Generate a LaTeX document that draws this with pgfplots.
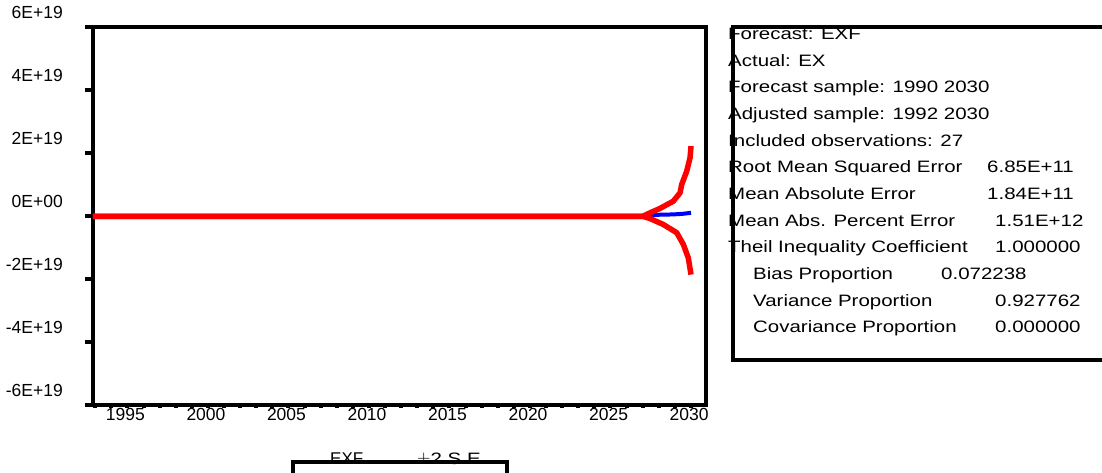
\documentclass[border=0pt]{standalone}
\usepackage{pgfplots}
\pgfplotsset{compat=1.18}
\usepackage{fontspec}
\setmainfont{Liberation Sans}
\newfontfamily\lib{Liberation Sans}
\newfontfamily\libw{Liberation Sans}[FakeStretch=1.24]
\newcommand{\tickfont}{\lib\fontsize{17.5}{20}\selectfont}
\newcommand{\panelfont}{\libw\fontsize{16.5}{20}\selectfont}
\begin{document}
\begin{tikzpicture}[x=1pt,y=1pt]
\useasboundingbox (0,0) rectangle (1102,473);
\begin{axis}[
  at={(93pt,68pt)}, anchor=south west,
  width=613pt, height=378pt, scale only axis,
  xmin=1992.86, xmax=2030.93,
  ymin=-6e19, ymax=6e19,
  axis line style={line width=4pt, line cap=rect},
  tick align=outside,
  xtick pos=bottom, ytick pos=left,
  ytick={-6e19,-4e19,-2e19,0,2e19,4e19,6e19},
  yticklabels={-6E+19,-4E+19,-2E+19,0E+00,2E+19,4E+19,6E+19},
  xtick={1995,2000,2005,2010,2015,2020,2025,2030},
  xticklabels={1995,2000,2005,2010,2015,2020,2025,2030},
  minor xtick={1993,1994,...,2030},
  major tick length=8pt, minor tick length=3pt,
  every major tick/.style={line width=4pt, black},
  every minor tick/.style={line width=4pt, black},
  every major x tick/.style={draw=none},
  yticklabel style={font=\tickfont, anchor=east, xshift=-22pt, yshift=15pt, inner sep=0pt},
  xticklabel style={font=\tickfont, anchor=north, xshift=-2pt, yshift=5pt, inner sep=0pt},
  scaled y ticks=false,
  clip=true,
]
\addplot[blue, line width=4pt, line join=round] coordinates {
(1992,-1e17)(1995,-1e17)(2000,-1e17)(2005,-1e17)(2010,-1e17)(2015,-1e17)(2020,-1e17)(2025,-1e17)(2027,-1e17)
(2027.45,3e17)(2028.07,4e17)(2028.9,5e17)(2029.5,7e17)(2030,1.0e18)};
\addplot[red, line width=5.5pt, line join=round] coordinates {
(1992,-1e17)(1995,-1e17)(2000,-1e17)(2005,-1e17)(2010,-1e17)(2015,-1e17)(2020,-1e17)(2025,-1e17)(2027,-1e17)
(2027.45,1.0e18)(2028.07,2.4e18)(2028.9,4.7e18)(2029.32,7.4e18)(2029.42,1.0e19)(2029.73,1.42e19)(2029.94,1.85e19)(2030,2.22e19)};
\addplot[red, line width=5.5pt, line join=round] coordinates {
(1992,-1e17)(1995,-1e17)(2000,-1e17)(2005,-1e17)(2010,-1e17)(2015,-1e17)(2020,-1e17)(2025,-1e17)(2027,-1e17)
(2027.45,-8e17)(2028.28,-2.7e18)(2029.11,-5.3e18)(2029.52,-9.0e18)(2029.83,-1.33e19)(2030,-1.86e19)};
\end{axis}
% statistics panel
\begin{scope}[every node/.style={anchor=base west, inner sep=0pt, font=\panelfont}]
\node at (728,433) {Forecast: EXF};
\node at (728,406) {Actual: EX};
\node at (728,380) {Forecast sample: 1990 2030};
\node at (728,353) {Adjusted sample: 1992 2030};
\node at (728,326) {Included observations: 27};
\node at (728,300) {Root Mean Squared Error};
\node at (987,300) {6.85E+11};
\node at (728,273) {Mean Absolute Error};
\node at (987,273) {1.84E+11};
\node at (728,246) {Mean Abs. Percent Error};
\node at (995,246) {1.51E+12};
\node at (728,220) {Theil Inequality Coefficient};
\node at (995,220) {1.000000};
\node at (753,193) {Bias Proportion};
\node at (941,193) {0.072238};
\node at (753,166) {Variance Proportion};
\node at (995,166) {0.927762};
\node at (753,140) {Covariance Proportion};
\node at (995,140) {0.000000};
\end{scope}
\draw[line width=4pt] (1110,446) -- (733,446) -- (733,113) -- (1110,113);
% legend
\node[anchor=base west, inner sep=0pt, font=\lib\fontsize{17}{18}\selectfont] at (330,8) {EXF};
\node[anchor=base west, inner sep=0pt, font=\panelfont] at (417,8) {$\pm$2 S.E.};
\draw[line width=4pt] (293,-10) -- (293,11) -- (507,11) -- (507,-10);
\end{tikzpicture}
\end{document}
